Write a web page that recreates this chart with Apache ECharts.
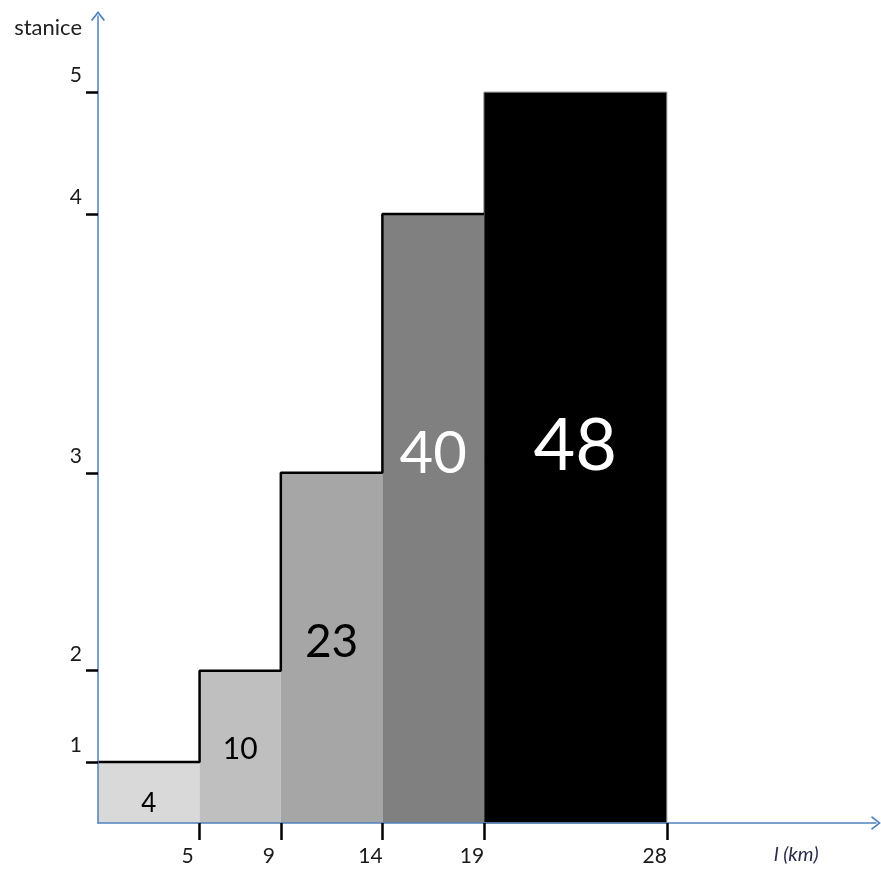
<!DOCTYPE html>
<html><head><meta charset="utf-8">
<script src="https://cdn.jsdelivr.net/npm/echarts@6/dist/echarts.min.js"></script>
<style>html,body{margin:0;padding:0;background:#fff}#c{width:881px;height:870px}</style>
</head><body><div id="c"></div>
<script>
// ---- data ----
const kmEdges = [0, 5, 9, 14, 19, 28];
const counts = [4, 10, 23, 40, 48];
const stationLabels = ['1', '2', '3', '4', '5'];
const xTickValues = [5, 9, 14, 19, 28];
const xAxisName = 'l (km)';
const yAxisName = 'stanice';

// ---- styles ----
const barColors = ['#d9d9d9', '#bfbfbf', '#a6a6a6', '#808080', '#000000'];
const labelStyles = [
  {size: 26, color: '#000', dy: 11},
  {size: 30, color: '#000', dy: 2},
  {size: 46, color: '#000', dy: -6},
  {size: 58, color: '#fff', dy: -64},
  {size: 72, color: '#fff', dy: -11}
];
const FONT = 'Lato, "Liberation Sans", sans-serif';
const AXIS_BLUE = '#4f81bd';
const CHEVRON = 'path://M0,9 L7,0 L14,9 L12.6,9.8 L7,2.6 L1.4,9.8 Z';

const barData = counts.map((c, i) => [kmEdges[i], kmEdges[i + 1], c, i]);
const stepPts = [];
for (let i = 0; i < counts.length - 1; i++) {
  stepPts.push([kmEdges[i], counts[i]]);
  stepPts.push([kmEdges[i + 1], counts[i]]);
}

const chart = echarts.init(document.getElementById('c'), null, {renderer: 'canvas'});
chart.setOption({
  animation: false,
  backgroundColor: '#fff',
  title: {
    text: xAxisName, left: 774, top: 845, padding: 0,
    textStyle: {fontSize: 20, fontStyle: 'italic', fontWeight: 'normal', fontFamily: FONT, color: '#2a2a4a'}
  },
  grid: {left: 98, right: 5, top: 16, bottom: 47, containLabel: false, outerBoundsMode: 'none'},
  xAxis: {
    type: 'value', min: 0, max: 38.3, z: 5,
    splitLine: {show: false},
    axisLine: {show: true, lineStyle: {color: AXIS_BLUE, width: 1.5},
      symbol: ['none', CHEVRON], symbolSize: [14, 10]},
    axisTick: {show: true, customValues: xTickValues, length: 17, lineStyle: {color: '#000', width: 2.5}},
    axisLabel: {show: true, customValues: xTickValues, margin: 23, fontSize: 21, fontFamily: FONT,
      color: '#1a1a1a', padding: [0, 24, 0, 0]}
  },
  yAxis: {
    type: 'value', min: 0, max: 53, z: 5,
    name: yAxisName, nameLocation: 'end', nameGap: -12,
    nameTextStyle: {fontSize: 22, fontFamily: FONT, color: '#222', align: 'right',
      verticalAlign: 'middle', padding: [0, 16, 0, 0]},
    splitLine: {show: false},
    axisLine: {show: true, lineStyle: {color: AXIS_BLUE, width: 1.5},
      symbol: ['none', CHEVRON], symbolSize: [14, 10]},
    axisTick: {show: true, customValues: counts, length: 12, lineStyle: {color: '#000', width: 2.5}},
    axisLabel: {show: true, customValues: counts, margin: 16, fontSize: 21, fontFamily: FONT,
      color: '#1a1a1a', verticalAlign: 'bottom', padding: [0, 0, 6, 0],
      formatter: v => stationLabels[counts.indexOf(v)]}
  },
  series: [
    {
      type: 'custom', z: 2,
      encode: {x: [0, 1], y: 2},
      data: barData,
      renderItem(params, api) {
        const i = api.value(3);
        const p0 = api.coord([api.value(0), 0]);
        const p1 = api.coord([api.value(1), api.value(2)]);
        const st = labelStyles[i];
        return {type: 'group', children: [
          {type: 'rect',
           shape: {x: p0[0], y: p1[1], width: p1[0] - p0[0], height: p0[1] - p1[1]},
           style: {fill: barColors[i], stroke: i === 4 ? '#7f7f7f' : null, lineWidth: 1}},
          {type: 'text',
           x: (p0[0] + p1[0]) / 2, y: (p0[1] + p1[1]) / 2 + st.dy,
           style: {text: String(api.value(2)), fill: st.color, fontSize: st.size,
             fontFamily: FONT, align: 'center', verticalAlign: 'middle'}}
        ]};
      }
    },
    {
      type: 'line', z: 3, data: stepPts, symbol: 'none',
      lineStyle: {color: '#000', width: 2.5}
    }
  ]
});
</script></body></html>
